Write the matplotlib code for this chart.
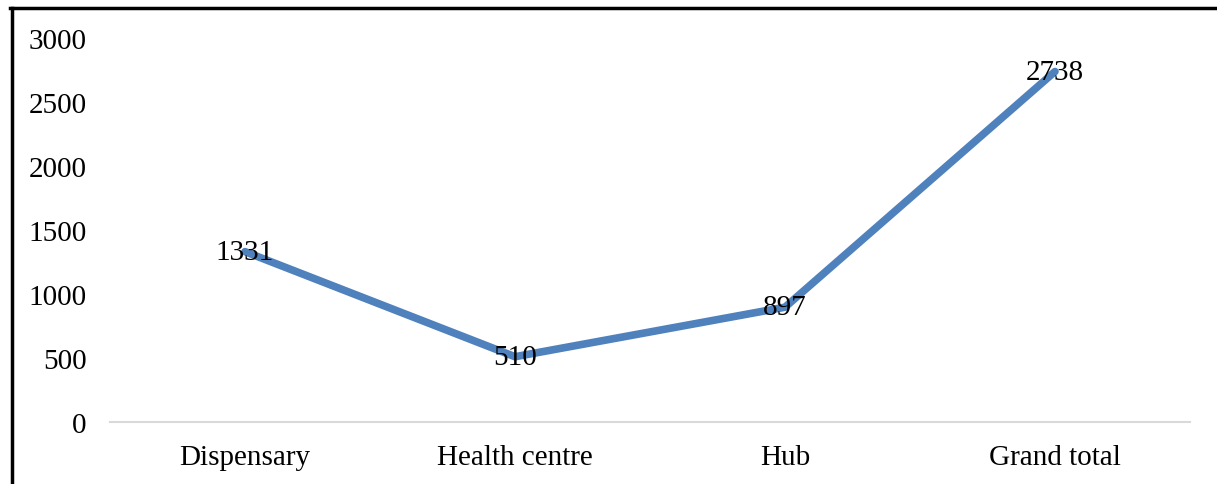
import matplotlib.pyplot as plt
from matplotlib.lines import Line2D

categories = ['Dispensary', 'Health centre', 'Hub', 'Grand total']
values = [1331, 510, 897, 2738]
yticks = [0, 500, 1000, 1500, 2000, 2500, 3000]

plt.rcParams['font.family'] = ['Liberation Serif', 'DejaVu Serif']

fig = plt.figure(figsize=(12.17, 4.85), dpi=100)
ax = fig.add_axes([0.0904, 0.1278, 0.8874, 0.7918])

x = list(range(len(categories)))
ax.plot(x, values, color='#4f81bd', linewidth=5.5, solid_capstyle='round', zorder=2)
for xi, v in zip(x, values):
    ax.text(xi, v, str(v), ha='center', va='center', fontsize=21, zorder=3)

ax.set_xlim(-0.5, len(categories) - 0.5)
ax.set_ylim(0, 3000)
ax.set_xticks(x)
ax.set_xticklabels(categories, fontsize=21)
ax.set_yticks(yticks)
ax.set_yticklabels([str(t) for t in yticks], fontsize=21)
ax.tick_params(length=0, pad=17)
ax.tick_params(axis='x', pad=16)
for s in ['top', 'right', 'left']:
    ax.spines[s].set_visible(False)
ax.spines['bottom'].set_color('#d9d9d9')
ax.spines['bottom'].set_linewidth(1.5)

# outer frame (left and top edges of the figure box)
fig.add_artist(Line2D([0.0095, 0.0095], [0, 0.981], transform=fig.transFigure, color='black', linewidth=2.5))
fig.add_artist(Line2D([0.0085, 1.0], [0.981, 0.981], transform=fig.transFigure, color='black', linewidth=2.5))

fig.savefig('out.png', dpi=100)
